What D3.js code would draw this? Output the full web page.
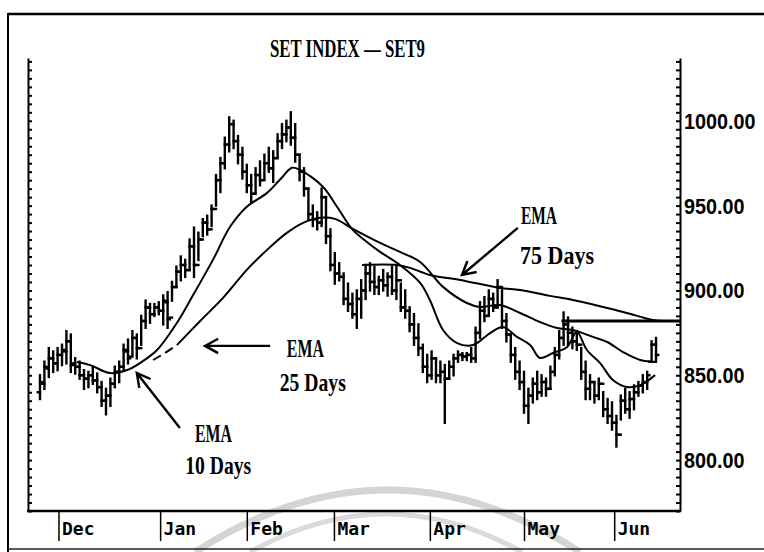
<!DOCTYPE html>
<html><head><meta charset="utf-8">
<script src="https://cdn.jsdelivr.net/npm/d3@7"></script>
<style>html,body{margin:0;padding:0;background:#fff;}svg{display:block;}</style>
</head><body><svg id="c" width="764" height="552"></svg>
<script>
// ---- data ----
const highs=[850,858,866,864,866,868,876,874,860,858,853,852,855,851,846,842,848,855,858,868,871,876,874,885,894,892,892,893,897,899,905,914,920,918,930,937,934,942,944,950,968,978,990,1002,1000,991,984,974,968,972,976,980,984,982,992,998,1000,1005,998,980,972,960,950,946,960,955,936,922,916,910,904,898,900,906,915,916,914,908,912,910,914,914,904,900,890,886,880,868,862,864,860,858,856,858,862,864,863,863,866,878,893,896,900,898,906,900,886,874,866,858,852,842,848,852,850,848,855,866,876,887,884,878,876,866,858,850,846,848,840,836,834,826,838,842,840,844,846,850,852,870,872];
const lows=[836,842,849,852,853,856,857,852,851,848,842,843,845,840,832,827,832,843,846,853,857,862,860,868,878,881,885,886,880,878,894,902,906,908,912,908,918,932,933,938,950,958,972,982,984,975,966,958,952,958,962,966,970,964,978,984,988,986,976,965,956,942,938,936,938,928,912,904,906,892,888,884,878,884,895,900,898,898,900,897,898,895,888,884,876,868,862,852,846,848,846,846,822,848,850,858,859,859,858,858,872,882,886,888,890,878,870,858,848,842,828,822,834,836,838,838,842,850,860,868,868,866,865,848,836,836,834,836,826,822,818,808,824,828,825,830,838,840,842,858,858];
const opens=[840,845,854,860,857,862,864,870,857,855,850,848,850,847,843,835,838,845,852,855,864,861,872,866,882,890,886,890,888,893,884,902,911,915,912,926,915,930,940,936,948,965,975,986,998,988,980,970,962,957,968,965,975,972,978,988,992,996,990,980,970,960,945,942,940,955,932,915,910,908,895,892,886,895,900,910,905,902,906,903,908,900,906,890,888,880,872,866,855,850,860,850,852,848,855,860,862,861,862,860,875,888,885,895,890,902,882,874,862,852,846,832,838,845,840,846,842,852,862,872,880,875,870,868,852,842,846,838,845,830,826,822,815,835,830,836,840,844,846,858,868];
const closes=[846,855,860,857,862,865,870,856,855,850,848,850,847,843,835,838,845,852,855,865,860,872,866,882,890,886,890,888,894,883,902,911,915,912,926,915,930,940,936,948,965,975,986,998,988,980,970,962,957,968,965,975,972,978,988,992,996,990,980,970,960,945,942,940,955,932,915,910,908,895,892,886,895,900,910,905,902,906,903,908,900,906,890,888,880,872,866,855,850,860,850,852,848,855,860,862,861,862,860,875,888,885,895,890,902,882,874,862,852,846,832,838,845,840,846,842,852,862,872,880,875,870,868,852,842,846,838,845,830,826,822,815,835,830,836,840,844,846,850,868,862];

const ema10Idx=[8.4,11.4,15.9,19.8,22.7,26.6,31.1,34.8,39.3,43.2,47.0,51.6,54.5,57.3,59.1,64.3,67.5,71.1,74.3,77.3,81.8,86.4,88.6,91.6,94.8,98.4,102.3,105.2,108.4,111.4,113.6,116.6,119.8,122.0,124.3,127.3,130.2,133.4,136.4,139.8];
const ema10Val=[857.8,856.0,851.3,853.1,857.2,864.9,880.8,897.3,918.0,937.5,949.3,957.5,965.2,972.3,971.1,961.1,949.3,935.7,928.6,922.7,915.0,904.4,894.4,876.7,869.0,867.8,874.9,878.5,872.6,867.8,860.2,863.1,866.7,875.5,864.9,857.2,847.2,843.1,844.2,850.1];

const ema25Idx=[25.7,28.4,31.1,36.4,41.6,47.0,51.6,56.1,59.8,63.6,67.0,71.1,77.3,81.8,86.4,91.6,97.0,100.0,104.5,109.1,113.6,117.5,121.1,125.7,128.9,132.5,136.4,140.2];
const ema25Val=[859.0,863.1,867.8,882.0,895.6,912.1,923.9,933.9,939.8,942.8,942.2,936.3,928.0,922.7,916.8,902.1,892.6,890.3,891.4,886.7,881.4,877.9,876.7,872.6,869.6,863.7,859.0,857.8];

const ema75Idx=[73.2,81.1,84.1,88.6,95.5,104.5,109.1,115.9,121.1,128.9,133.4,139.3,142.0];
const ema75Val=[915.0,915.0,913.3,909.1,906.2,901.5,900.3,896.8,894.4,889.7,886.7,882.6,882.0];

const monthLabels=["Dec","Jan","Feb","Mar","Apr","May","Jun"];
const monthIdx=[4.2,27.3,47.0,66.8,88.6,110.0,130.5];
const yLabelValues=[800,850,900,950,1000];
const resistanceValue=882, resistanceStartIdx=118.5;
const titleText="SET INDEX \u2014 SET9";

// ---- drawing ----
const svg=d3.select("#c");
const x=d3.scaleLinear().domain([0,140]).range([40,656]);
const y=d3.scaleLinear().domain([770,1037]).range([511,58]);
const PL=28, PR=680, PT=58, PB=511;

// watermark arcs
svg.append("path").attr("d","M195,552 Q388,428 580,552").attr("fill","none").attr("stroke","#d4d4d4").attr("stroke-width",7);
svg.append("path").attr("d","M250,552 Q386,476 522,552").attr("fill","none").attr("stroke","#dadada").attr("stroke-width",5);

// outer scan frame
svg.append("line").attr("x1",8).attr("x2",764).attr("y1",14).attr("y2",14).attr("stroke","#000").attr("stroke-width",2.5);
svg.append("line").attr("x1",8).attr("x2",8).attr("y1",13).attr("y2",552).attr("stroke","#000").attr("stroke-width",2);
svg.append("line").attr("x1",8).attr("x2",764).attr("y1",549).attr("y2",549).attr("stroke","#222").attr("stroke-width",1.5);

// title
svg.append("text").attr("x",270).attr("y",57).attr("textLength",155).attr("lengthAdjust","spacingAndGlyphs")
  .attr("font-family","Liberation Serif").attr("font-weight","bold").attr("font-size",26).text(titleText);

// axes
const minor=d3.range(770,1036,5);
svg.append("g").attr("transform",`translate(${PL},0)`)
  .call(d3.axisRight(y).tickValues(minor).tickSize(4).tickSizeOuter(0).tickFormat(""))
  .call(g=>g.selectAll("line,path").attr("stroke","#000").attr("stroke-width",2));
svg.append("g").attr("transform",`translate(${PR},0)`)
  .call(d3.axisLeft(y).tickValues(minor).tickSize(4).tickSizeOuter(0).tickFormat(""))
  .call(g=>g.selectAll("line,path").attr("stroke","#000").attr("stroke-width",2));
// right value labels
svg.append("g").selectAll("text").data(yLabelValues).join("text")
  .attr("transform",d=>`translate(${PR+4},${y(d)+8}) scale(0.9,1)`)
  .attr("font-family","Liberation Sans").attr("font-weight","bold").attr("font-size",22).attr("fill","#000")
  .text(d=>d3.format(".2f")(d));
// bottom line
svg.append("line").attr("x1",PL-1).attr("x2",PR+1).attr("y1",PB).attr("y2",PB).attr("stroke","#000").attr("stroke-width",2.5);
svg.append("g").attr("transform",`translate(0,${PB})`)
  .call(d3.axisBottom(x).tickValues(monthIdx).tickSize(30).tickFormat((d,i)=>monthLabels[i]))
  .call(g=>g.select(".domain").remove())
  .call(g=>g.selectAll("line").attr("stroke","#000").attr("stroke-width",1.5))
  .call(g=>g.selectAll("text").attr("text-anchor","start").attr("x",3).attr("y",9).attr("dy","0.85em")
     .attr("font-family","DejaVu Sans Mono").attr("font-weight","bold").attr("font-size",18).attr("fill","#000"));

// price bars
const bars=svg.append("g").attr("stroke","#000").attr("stroke-width",2.4).attr("stroke-linecap","square");
highs.forEach((h,i)=>{
  const cx=x(i);
  bars.append("line").attr("x1",cx).attr("x2",cx).attr("y1",y(h)).attr("y2",y(lows[i]));
  bars.append("line").attr("x1",cx-2.2).attr("x2",cx).attr("y1",y(opens[i])).attr("y2",y(opens[i]));
  bars.append("line").attr("x1",cx).attr("x2",cx+2.2).attr("y1",y(closes[i])).attr("y2",y(closes[i]));
});

// EMA lines
const line=d3.line().x(d=>x(d[0])).y(d=>y(d[1])).curve(d3.curveCatmullRom);
function drawLine(idx,val,w,dash){
  svg.append("path").datum(idx.map((d,i)=>[d,val[i]])).attr("d",line).attr("fill","none")
    .attr("stroke","#000").attr("stroke-width",w).attr("stroke-dasharray",dash||null);
}
drawLine(ema10Idx,ema10Val,2);
drawLine(ema25Idx.slice(0,3),ema25Val.slice(0,3),2,"9,5");
drawLine(ema25Idx.slice(2),ema25Val.slice(2),2);
drawLine(ema75Idx,ema75Val,2);

// resistance line
svg.append("line").attr("x1",x(resistanceStartIdx)).attr("x2",PR).attr("y1",y(resistanceValue)).attr("y2",y(resistanceValue))
  .attr("stroke","#000").attr("stroke-width",2.8);

// annotations
const ann=[
  {t:"EMA",i:56.1,v:860.8,w:37},{t:"25 Days",i:54.5,v:840.7,w:66},
  {t:"EMA",i:35.2,v:810.6,w:37},{t:"10 Days",i:33,v:791.7,w:66},
  {t:"EMA",i:109.3,v:939.2,w:36},{t:"75 Days",i:109.1,v:915.3,w:74}
];
ann.forEach(a=>svg.append("text").attr("x",x(a.i)).attr("y",y(a.v)).attr("textLength",a.w).attr("lengthAdjust","spacingAndGlyphs")
  .attr("font-family","Liberation Serif").attr("font-weight","bold").attr("font-size",25).text(a.t));

function arrow(i1,v1,i2,v2){
  const x1=x(i1),y1=y(v1),x2=x(i2),y2=y(v2);
  const ang=Math.atan2(y1-y2,x1-x2), L=15, sp=0.5;
  svg.append("path").attr("d",`M${x1},${y1}L${x2},${y2}M${x2+L*Math.cos(ang+sp)},${y2+L*Math.sin(ang+sp)}L${x2},${y2}L${x2+L*Math.cos(ang-sp)},${y2+L*Math.sin(ang-sp)}`)
    .attr("fill","none").attr("stroke","#000").attr("stroke-width",2.4);
}
arrow(52.3,867.3,37.5,867.3);
arrow(31.8,818.9,22.0,851.3);
arrow(108.6,936.9,95.9,909.1);
</script></body></html>
